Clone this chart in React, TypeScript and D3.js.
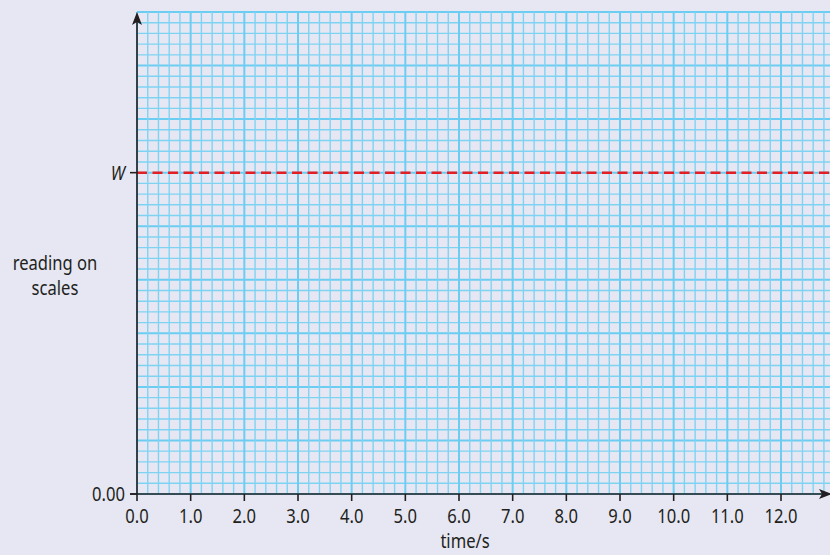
import React from "react";
import * as d3 from "d3";

const xTicks = [0, 1, 2, 3, 4, 5, 6, 7, 8, 9, 10, 11, 12];
const xMinorStep = 0.2;
const xMax = 12.9;
const yMaxCells = 45;
const yLevelW = 30;
const yLabels = [
  { value: 0, label: "0.00", italic: false },
  { value: yLevelW, label: "W", italic: true },
];

const W = 830;
const H = 555;
const FONT = "'Noto Sans', 'Open Sans', sans-serif";
const SX = 0.83;
const FS = 20;
const TXT = "#231f20";

function T({ x, y, anchor, children, italic }: { x: number; y: number; anchor: string; children: any; italic?: boolean }) {
  return (
    <g transform={`translate(${x},${y}) scale(${SX},1)`}>
      <text x={0} y={0} textAnchor={anchor} fontSize={FS} fill={TXT} fontStyle={italic ? "italic" : "normal"}>
        {children}
      </text>
    </g>
  );
}

export default function App() {
  const x = d3.scaleLinear().domain([0, 12]).range([137, 781]);
  const y = d3.scaleLinear().domain([0, yMaxCells]).range([494, 12]);

  const vLines: { v: number; major: boolean }[] = [];
  for (let i = 0; i * xMinorStep <= xMax + 1e-9; i++) {
    const v = +(i * xMinorStep).toFixed(4);
    vLines.push({ v, major: i % 5 === 0 });
  }
  const hLines = d3.range(0, yMaxCells + 1).map((c) => ({ c, major: c % 5 === 0 }));

  const gridMinor = "#7ed3f3";
  const gridMajor = "#6ccdf2";
  const axis = "#231f20";
  const x0 = x(0);
  const y0 = y(0);
  const yTop = y(yMaxCells);
  const xRight = x(xMax);

  return (
    <svg
      width={W}
      height={H}
      style={{ position: "absolute", left: 0, top: 0, display: "block" }}
      fontFamily={FONT}
    >
      <rect x={0} y={0} width={W} height={H} fill="#e6e7f3" />
      <g>
        {hLines.map((h) => (
          <line
            key={"h" + h.c}
            x1={x0}
            x2={W}
            y1={y(h.c)}
            y2={y(h.c)}
            stroke={h.major ? gridMajor : gridMinor}
            strokeWidth={h.major ? 2 : 1.4}
          />
        ))}
        {vLines.map((l) => (
          <line
            key={"v" + l.v}
            x1={x(l.v)}
            x2={x(l.v)}
            y1={yTop}
            y2={y0}
            stroke={l.major ? gridMajor : gridMinor}
            strokeWidth={l.major ? 2 : 1.4}
          />
        ))}
      </g>
      <line
        x1={x0}
        x2={W}
        y1={y(yLevelW)}
        y2={y(yLevelW)}
        stroke="#e31e24"
        strokeWidth={2.5}
        strokeDasharray="10,5.5"
      />
      <line x1={x0} x2={x0} y1={y0} y2={yTop + 8} stroke={axis} strokeWidth={1.6} />
      <path d={`M${x0},${yTop} L${x0 - 5},${yTop + 13} L${x0},${yTop + 10} L${x0 + 5},${yTop + 13} Z`} fill={axis} />
      <line x1={x0 - 7} x2={xRight} y1={y0} y2={y0} stroke={axis} strokeWidth={1.6} />
      <path d={`M${W + 2},${y0} L${W - 11},${y0 - 5} L${W - 8},${y0} L${W - 11},${y0 + 5} Z`} fill={axis} />
      {xTicks.map((t) => (
        <g key={"xt" + t}>
          <line x1={x(t)} x2={x(t)} y1={y0} y2={y0 + 7} stroke={axis} strokeWidth={1.6} />
          <T x={x(t)} y={y0 + 29} anchor="middle">
            {t.toFixed(1)}
          </T>
        </g>
      ))}
      {yLabels.map((l) => (
        <g key={"yl" + l.label}>
          <line x1={x0 - 7} x2={x0} y1={y(l.value)} y2={y(l.value)} stroke={axis} strokeWidth={1.6} />
          <T x={x0 - 12} y={y(l.value) + 7} anchor="end" italic={l.italic}>
            {l.label}
          </T>
        </g>
      ))}
      <T x={465} y={548} anchor="middle">time/s</T>
      <T x={55} y={270} anchor="middle">reading on</T>
      <T x={55} y={295} anchor="middle">scales</T>
    </svg>
  );
}
